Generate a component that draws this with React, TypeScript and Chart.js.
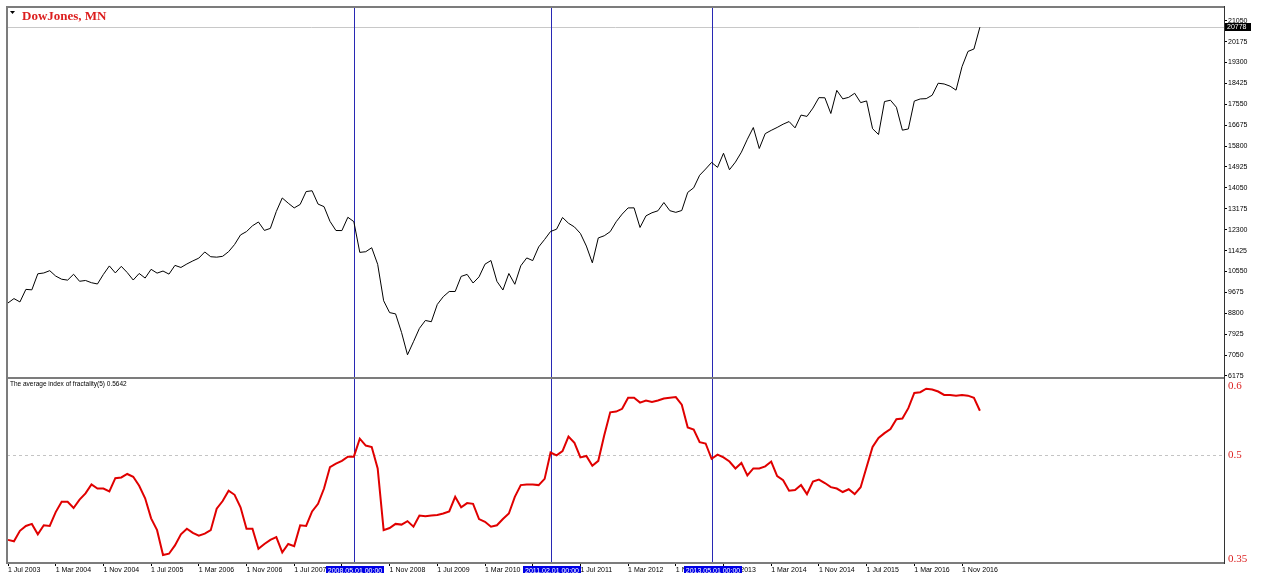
import React, { useEffect, useRef } from "react";
import { Chart, registerables } from "chart.js";

Chart.register(...registerables);

// Monthly closes, DowJones MN, Jul 2003 .. Feb 2017
const priceClose: number[] = [
  9233, 9416, 9275, 9801, 9782, 10454,
  10488, 10584, 10358, 10226, 10188, 10435, 10140, 10174, 10080, 10027, 10428, 10783,
  10490, 10766, 10504, 10193, 10467, 10275, 10641, 10482, 10569, 10440, 10806, 10718,
  10865, 10993, 11109, 11367, 11168, 11150, 11186, 11381, 11679, 12081, 12221, 12463,
  12622, 12269, 12354, 13063, 13628, 13409, 13212, 13358, 13896, 13930, 13372, 13265,
  12650, 12266, 12263, 12820, 12638, 11350, 11378, 11544, 10851, 9325, 8829, 8776,
  8001, 7063, 7609, 8168, 8500, 8447, 9172, 9496, 9712, 9713, 10344, 10428,
  10067, 10325, 10857, 11009, 10137, 9774, 10466, 10015, 10788, 11118, 11006, 11578,
  11892, 12226, 12320, 12811, 12570, 12414, 12143, 11614, 10913, 11955, 12046, 12218,
  12633, 12952, 13212, 13214, 12393, 12880, 13009, 13091, 13437, 13096, 13026, 13104,
  13861, 14054, 14579, 14840, 15116, 14910, 15500, 14810, 15130, 15546, 16086, 16577,
  15699, 16322, 16458, 16581, 16717, 16827, 16563, 17098, 17043, 17391, 17828, 17823,
  17165, 18133, 17776, 17841, 18011, 17620, 17690, 16528, 16285, 17664, 17720, 17425,
  16466, 16517, 17685, 17774, 17787, 17930, 18432, 18401, 18308, 18142, 19124, 19763,
  19864, 20778,
];

// The average index of fractality(5)
const fractality: number[] = [
  0.378, 0.376, 0.391, 0.398, 0.401, 0.386, 0.399, 0.398, 0.418, 0.433,
  0.433, 0.424, 0.436, 0.445, 0.458, 0.452, 0.452, 0.448, 0.467, 0.468,
  0.473, 0.469, 0.456, 0.438, 0.409, 0.392, 0.356, 0.358, 0.370, 0.386,
  0.394, 0.388, 0.384, 0.387, 0.392, 0.423, 0.434, 0.449, 0.443, 0.425,
  0.394, 0.394, 0.365, 0.372, 0.378, 0.382, 0.360, 0.372, 0.369, 0.399,
  0.398, 0.419, 0.430, 0.452, 0.483, 0.488, 0.492, 0.498, 0.498, 0.524,
  0.514, 0.512, 0.481, 0.392, 0.395, 0.401, 0.400, 0.405, 0.397, 0.413,
  0.412, 0.413, 0.414, 0.416, 0.419, 0.440, 0.425, 0.431, 0.430, 0.408,
  0.404, 0.397, 0.399, 0.408, 0.416, 0.440, 0.457, 0.458, 0.458, 0.457,
  0.466, 0.504, 0.500, 0.506, 0.527, 0.518, 0.497, 0.499, 0.485, 0.492,
  0.529, 0.562, 0.563, 0.567, 0.583, 0.583, 0.576, 0.579, 0.577, 0.579,
  0.582, 0.583, 0.584, 0.573, 0.540, 0.537, 0.519, 0.517, 0.495, 0.501,
  0.497, 0.491, 0.481, 0.489, 0.471, 0.481, 0.481, 0.484, 0.491, 0.470,
  0.464, 0.449, 0.450, 0.457, 0.444, 0.462, 0.465, 0.460, 0.454, 0.452,
  0.447, 0.451, 0.444, 0.454, 0.483, 0.512, 0.525, 0.532, 0.538, 0.552,
  0.553, 0.568, 0.590, 0.591, 0.596, 0.595, 0.592, 0.587, 0.587, 0.586,
  0.587, 0.586, 0.583, 0.5642,
];

const xTickIndices: number[] = [0, 8, 16, 24, 32, 40, 48, 56, 64, 72, 80, 88, 96, 104, 112, 120, 128, 136, 144, 152, 160];
const xTickLabels: string[] = [
  "1 Jul 2003", "1 Mar 2004", "1 Nov 2004", "1 Jul 2005", "1 Mar 2006", "1 Nov 2006", "1 Jul 2007",
  "1 Mar 2008", "1 Nov 2008", "1 Jul 2009", "1 Mar 2010", "1 Nov 2010", "1 Jul 2011", "1 Mar 2012",
  "1 Nov 2012", "1 Jul 2013", "1 Mar 2014", "1 Nov 2014", "1 Jul 2015", "1 Mar 2016", "1 Nov 2016",
];
const priceTicks: number[] = [6175, 7050, 7925, 8800, 9675, 10550, 11425, 12300, 13175, 14050, 14925, 15800, 16675, 17550, 18425, 19300, 20175, 21050];
const indicatorTicks: number[] = [0.35, 0.5, 0.6];
const markerIndices: number[] = [58, 91, 118];
const markerLabels: string[] = ["2008.05.01 00:00", "2011.02.01 00:00", "2013.05.01 00:00"];
const lastPrice = 20778;
const levelValue = 0.5;
const chartTitle = "DowJones, MN";
const indicatorTitle = "The average index of fractality(5) 0.5642";

const SMALL = '"Liberation Sans", Arial, sans-serif';
const SERIF = '"Liberation Serif", "Times New Roman", serif';

const noPadY = (s: any) => {
  s.width = 40;
  s.paddingTop = 0;
  s.paddingBottom = 0;
};

const decor = {
  id: "decor",
  beforeDatasetsDraw(chart: any) {
    const { ctx, chartArea: ca, scales } = chart;
    const x = scales.x, y = scales.y, y2 = scales.y2;
    ctx.save();
    const yp = Math.round(y.getPixelForValue(lastPrice)) + 0.5;
    ctx.strokeStyle = "#c8c8c8";
    ctx.lineWidth = 1;
    ctx.beginPath();
    ctx.moveTo(ca.left, yp);
    ctx.lineTo(ca.right, yp);
    ctx.stroke();
    const yl = Math.round(y2.getPixelForValue(levelValue)) + 0.5;
    ctx.strokeStyle = "#c4c4c4";
    ctx.setLineDash([3, 3]);
    ctx.beginPath();
    ctx.moveTo(ca.left, yl);
    ctx.lineTo(ca.right, yl);
    ctx.stroke();
    ctx.setLineDash([]);
    ctx.strokeStyle = "rgb(40,40,180)";
    for (const idx of markerIndices) {
      const px = Math.round(x.getPixelForValue(idx)) + 0.5;
      ctx.beginPath();
      ctx.moveTo(px, ca.top);
      ctx.lineTo(px, ca.bottom);
      ctx.stroke();
    }
    ctx.restore();
  },
  afterDraw(chart: any) {
    const { ctx, chartArea: ca, scales } = chart;
    const x = scales.x, y = scales.y, y2 = scales.y2;
    ctx.save();
    ctx.fillStyle = "#7c7c7c";
    ctx.fillRect(ca.left - 1, ca.top - 1, ca.right - ca.left + 1, 2);
    ctx.fillRect(ca.left - 1, ca.top - 1, 2, ca.bottom - ca.top + 2);
    ctx.fillRect(ca.left - 1, ca.bottom - 1, ca.right - ca.left + 1, 2);
    const sep = Math.round(y.bottom);
    ctx.fillRect(ca.left - 1, sep - 1, ca.right - ca.left + 1, 2);
    ctx.fillStyle = "#333";
    ctx.fillRect(ca.right, ca.top - 1, 1, ca.bottom - ca.top + 2);

    ctx.fillStyle = "#000";
    ctx.beginPath();
    ctx.moveTo(10, 11);
    ctx.lineTo(15, 11);
    ctx.lineTo(12.5, 14);
    ctx.closePath();
    ctx.fill();
    ctx.font = `bold 13px ${SERIF}`;
    ctx.fillStyle = "rgb(220,30,30)";
    ctx.textBaseline = "alphabetic";
    ctx.textAlign = "left";
    ctx.fillText(chartTitle, 22, 19.5);

    ctx.font = `6.5px ${SMALL}`;
    ctx.fillStyle = "#000";
    ctx.textBaseline = "middle";
    ctx.fillText(indicatorTitle, 10, y2.top + 6.5);

    const yp = y.getPixelForValue(lastPrice);
    ctx.fillStyle = "#000";
    ctx.fillRect(ca.right + 1, Math.round(yp) - 4, 26, 8);
    ctx.fillStyle = "#fff";
    ctx.font = `7px ${SMALL}`;
    ctx.textAlign = "left";
    ctx.fillText(String(lastPrice), ca.right + 3, Math.round(yp) + 0.5);

    markerIndices.forEach((idx, k) => {
      const px = Math.round(x.getPixelForValue(idx));
      ctx.fillStyle = "rgb(0,0,230)";
      ctx.fillRect(px - 28, ca.bottom + 3, 58, 10);
      ctx.fillStyle = "#fff";
      ctx.font = `7px ${SMALL}`;
      ctx.textAlign = "center";
      ctx.textBaseline = "middle";
      ctx.fillText(markerLabels[k], px + 1, ca.bottom + 8);
    });
    ctx.restore();
  },
};

export default function App() {
  const ref = useRef<HTMLCanvasElement | null>(null);

  useEffect(() => {
    if (!ref.current) return;
    const chart = new Chart(ref.current, {
      type: "line",
      data: {
        datasets: [
          {
            label: chartTitle,
            data: priceClose.map((v, i) => ({ x: i, y: v })),
            yAxisID: "y",
            borderColor: "#000",
            borderWidth: 1,
            pointRadius: 0,
            tension: 0,
          },
          {
            label: indicatorTitle,
            data: fractality.map((v, i) => ({ x: i, y: v })),
            yAxisID: "y2",
            borderColor: "#e00000",
            borderWidth: 2,
            pointRadius: 0,
            tension: 0,
          },
        ],
      },
      options: {
        responsive: false,
        animation: false,
        events: [],
        layout: { padding: { left: 7, top: 7, right: 0, bottom: 0 } },
        plugins: { legend: { display: false }, tooltip: { enabled: false } },
        scales: {
          x: {
            type: "linear",
            position: "bottom",
            min: -0.168,
            max: 203.94,
            afterBuildTicks: (s: any) => {
              s.ticks = xTickIndices.map((v) => ({ value: v }));
            },
            afterFit: (s: any) => {
              s.height = 10;
              s.paddingLeft = 0;
              s.paddingRight = 0;
            },
            ticks: {
              autoSkip: false,
              maxRotation: 0,
              align: "start",
              padding: 0,
              color: "#000",
              font: { family: SMALL, size: 7 },
              callback: (v: any) => {
                const k = xTickIndices.indexOf(Number(v));
                return k >= 0 ? xTickLabels[k] : "";
              },
            },
            grid: { drawOnChartArea: false, drawTicks: true, tickLength: 3, color: "#000" },
            border: { display: false },
          },
          y: {
            type: "linear",
            position: "right",
            stack: "panels",
            stackWeight: 371,
            min: 6091,
            max: 21623,
            afterBuildTicks: (s: any) => {
              s.ticks = priceTicks.map((v) => ({ value: v }));
            },
            afterFit: noPadY,
            ticks: {
              autoSkip: false,
              padding: 1,
              color: "#000",
              font: { family: SMALL, size: 7 },
              callback: (v: any) => String(v),
            },
            grid: { drawOnChartArea: false, drawTicks: true, tickLength: 3, color: "#000" },
            border: { display: false },
          },
          y2: {
            type: "linear",
            position: "right",
            stack: "panels",
            stackWeight: 185,
            min: 0.3446,
            max: 0.6115,
            afterBuildTicks: (s: any) => {
              s.ticks = indicatorTicks.map((v) => ({ value: v }));
            },
            afterFit: noPadY,
            ticks: {
              autoSkip: false,
              padding: 4,
              color: "rgb(220,30,30)",
              font: { family: SERIF, size: 11 },
              callback: (v: any) => String(v),
            },
            grid: { display: false, drawOnChartArea: false, drawTicks: false },
            border: { display: false },
          },
        },
      },
      plugins: [decor],
    });
    return () => chart.destroy();
  }, []);

  return (
    <div style={{ position: "absolute", left: 0, top: 0, width: 1264, height: 573, background: "#fff" }}>
      <canvas ref={ref} width={1264} height={573} />
    </div>
  );
}
